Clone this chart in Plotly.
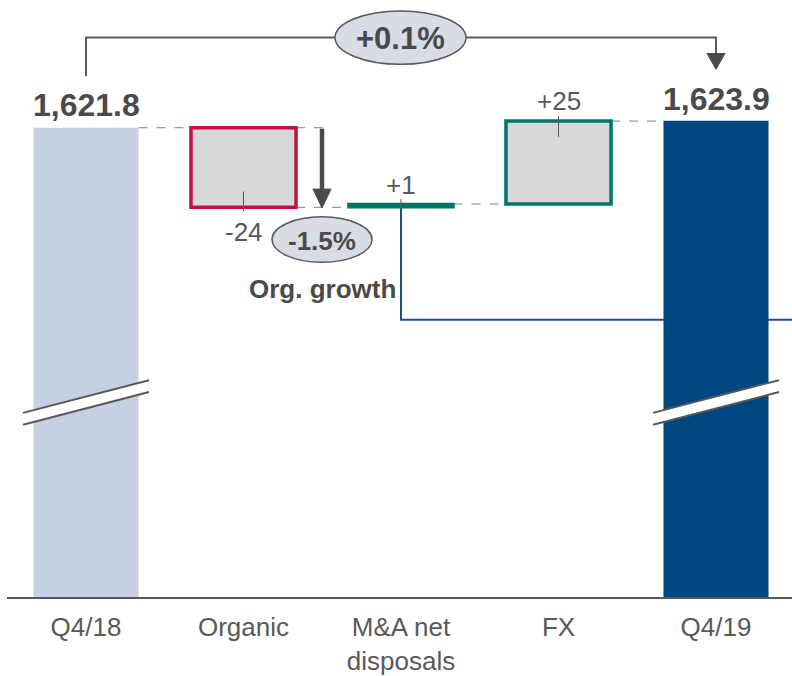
import plotly.graph_objects as go

# ---------------- data ----------------
categories = ["Q4/18", "Organic", "M&A net<br>disposals", "FX", "Q4/19"]
start_value = 1621.8
deltas = [-24, 1, 25]
end_value = 1623.9
delta_labels = ["-24", "+1", "+25"]
total_labels = ["1,621.8", "1,623.9"]
organic_growth_label = "-1.5%"
organic_growth_text = "Org. growth"
total_growth_label = "+0.1%"

# ---------------- styles ----------------
C_START = "#c5d0e2"
C_END = "#00467f"
C_BOX = "#d7d8da"
C_RED = "#c8103e"
C_TEAL = "#00756a"
C_BLUE = "#1f4e8c"
C_GRAY = "#595959"
C_DARK = "#4a4a4a"
C_ELL = "#d8dce5"
FONT = "Liberation Sans, Arial, sans-serif"
BW = 0.667

# running bases
bases = []
run = start_value
for d in deltas:
    bases.append(run)
    run += d
tops = [b + d for b, d in zip(bases, deltas)]

# axis geometry (pixel <-> data helpers for decorative elements)
W, H = 792, 676
ML, MR, MT, MB = 7, 0, 0, 73
PW, PH = W - ML - MR, H - MT - MB
YS = 3.35                       # px per unit
YTOP = start_value + 129 / YS
YBOT = YTOP - PH / YS
XS = 157.5
X0 = -(86 - ML) / XS
X1 = X0 + PW / XS

def xd(p):
    return X0 + (p - ML) / XS

def yd(p):
    return YTOP - (p - MT) / YS

fig = go.Figure()
fig.add_trace(go.Bar(x=[categories[0]], y=[start_value], width=BW,
                     marker=dict(color=C_START, line=dict(width=0))))
fig.add_trace(go.Bar(x=[categories[1]], base=[bases[0]], y=[deltas[0]], width=BW,
                     marker=dict(color=C_BOX, line=dict(color=C_RED, width=3.5))))
fig.add_trace(go.Bar(x=[categories[2]], base=[bases[1]], y=[deltas[1]], width=BW,
                     marker=dict(color=C_TEAL, line=dict(color=C_TEAL, width=2.5))))
fig.add_trace(go.Bar(x=[categories[3]], base=[bases[2]], y=[deltas[2]], width=BW,
                     marker=dict(color=C_BOX, line=dict(color=C_TEAL, width=3.5))))
fig.add_trace(go.Bar(x=[categories[4]], y=[end_value], width=BW,
                     marker=dict(color=C_END, line=dict(width=0))))

shapes = []
ann = []

# dashed connectors
dash = dict(color="#808080", width=1, dash="dash")
shapes.append(dict(type="line", xref="x", yref="y", x0=0 + BW / 2, x1=1 - BW / 2,
                   y0=start_value, y1=start_value, line=dash, layer="below"))
shapes.append(dict(type="line", xref="x", yref="y", x0=1 + BW / 2, x1=xd(330),
                   y0=start_value, y1=start_value, line=dash, layer="below"))
for i in range(len(deltas) - 1):
    shapes.append(dict(type="line", xref="x", yref="y", x0=i + 1 + BW / 2, x1=i + 2 - BW / 2,
                       y0=tops[i], y1=tops[i], line=dash, layer="below"))
shapes.append(dict(type="line", xref="x", yref="y", x0=3 + BW / 2, x1=4 - BW / 2,
                   y0=tops[2], y1=tops[2], line=dash, layer="below"))

# blue connector from M&A
shapes.append(dict(type="path", xref="x", yref="y",
                   path=f"M 2 {tops[1]} L 2 {yd(323)} L {X1 + 0.1} {yd(323)}",
                   line=dict(color=C_BLUE, width=2), layer="below"))

# leader ticks + delta labels
lead = dict(color=C_GRAY, width=1)
LBL = dict(size=26, color=C_GRAY, family=FONT)
shapes.append(dict(type="line", xref="x", yref="y", x0=1, x1=1,
                   y0=tops[0] + 16 / YS, y1=tops[0] - 4 / YS, line=lead))
ann.append(dict(x=1, y=tops[0], xref="x", yref="y", text=delta_labels[0], showarrow=False,
                yanchor="middle", yshift=-25, font=LBL))
shapes.append(dict(type="line", xref="x", yref="y", x0=2, x1=2,
                   y0=tops[1] + 5 / YS, y1=tops[1] - 5 / YS, line=lead))
ann.append(dict(x=2, y=tops[1], xref="x", yref="y", text=delta_labels[1], showarrow=False,
                yanchor="middle", yshift=19, font=LBL))
shapes.append(dict(type="line", xref="x", yref="y", x0=3, x1=3,
                   y0=tops[2] + 5 / YS, y1=tops[2] - 16 / YS, line=lead))
ann.append(dict(x=3, y=tops[2], xref="x", yref="y", text=delta_labels[2], showarrow=False,
                yanchor="middle", yshift=20, font=LBL))

# totals
ann.append(dict(x=0, y=start_value, xref="x", yref="y", text=f"<b>{total_labels[0]}</b>",
                showarrow=False, yanchor="middle", yshift=23,
                font=dict(size=32, color=C_DARK, family=FONT)))
ann.append(dict(x=4, y=end_value, xref="x", yref="y", text=f"<b>{total_labels[1]}</b>",
                showarrow=False, yanchor="middle", yshift=22,
                font=dict(size=32, color=C_DARK, family=FONT)))

# break marks
for cx in (0, 4):
    xa, xb = cx - 0.4, cx + 0.4
    p1a, p1b = yd(417), yd(384)
    p2a, p2b = yd(429), yd(396)
    shapes.append(dict(type="path", xref="x", yref="y",
                       path=f"M {xa} {p1a} L {xb} {p1b} L {xb} {p2b} L {xa} {p2a} Z",
                       fillcolor="white", line=dict(width=0)))
    shapes.append(dict(type="line", xref="x", yref="y", x0=xa, x1=xb, y0=p1a, y1=p1b,
                       line=dict(color=C_GRAY, width=2)))
    shapes.append(dict(type="line", xref="x", yref="y", x0=xa, x1=xb, y0=p2a, y1=p2b,
                       line=dict(color=C_GRAY, width=2)))

# organic growth arrow
ax = xd(322)
shapes.append(dict(type="line", xref="x", yref="y", x0=ax, x1=ax, y0=yd(130), y1=yd(193),
                   line=dict(color=C_DARK, width=4.5)))
shapes.append(dict(type="path", xref="x", yref="y",
                   path=f"M {xd(313)} {yd(191)} L {xd(331)} {yd(191)} L {ax} {yd(210)} Z",
                   fillcolor=C_DARK, line=dict(color=C_DARK, width=1)))
shapes.append(dict(type="circle", xref="x", yref="y", x0=xd(272), x1=xd(372),
                   y0=yd(219), y1=yd(265), fillcolor=C_ELL, line=dict(color=C_GRAY, width=1.5)))
ann.append(dict(x=ax, y=yd(243), xref="x", yref="y", text=f"<b>{organic_growth_label}</b>",
                showarrow=False, font=dict(size=26, color=C_DARK, family=FONT)))
ann.append(dict(x=ax, y=yd(292), xref="x", yref="y", text=f"<b>{organic_growth_text}</b>",
                showarrow=False, font=dict(size=26, color=C_DARK, family=FONT)))

# top bracket
shapes.append(dict(type="path", xref="x", yref="y",
                   path=f"M 0 {yd(77)} L 0 {yd(38)} L {xd(336)} {yd(38)}",
                   line=dict(color=C_GRAY, width=2)))
shapes.append(dict(type="path", xref="x", yref="y",
                   path=f"M {xd(465)} {yd(38)} L 4 {yd(38)} L 4 {yd(55)}",
                   line=dict(color=C_GRAY, width=2)))
shapes.append(dict(type="path", xref="x", yref="y",
                   path=f"M {xd(707)} {yd(54)} L {xd(725)} {yd(54)} L 4 {yd(70)} Z",
                   fillcolor=C_DARK, line=dict(color=C_DARK, width=1)))
shapes.append(dict(type="circle", xref="x", yref="y", x0=xd(335), x1=xd(466),
                   y0=yd(11), y1=yd(65), fillcolor=C_ELL, line=dict(color=C_GRAY, width=1.5)))
ann.append(dict(x=xd(400), y=yd(39), xref="x", yref="y", text=f"<b>{total_growth_label}</b>",
                showarrow=False, font=dict(size=31, color=C_DARK, family=FONT)))

fig.update_layout(
    width=W, height=H,
    margin=dict(l=ML, r=MR, t=MT, b=MB),
    paper_bgcolor="white", plot_bgcolor="white",
    barmode="overlay", showlegend=False,
    shapes=shapes, annotations=ann,
    xaxis=dict(type="category", categoryorder="array", categoryarray=categories,
               range=[X0, X1], showline=True, linecolor=C_GRAY, linewidth=2,
               showgrid=False, zeroline=False, ticks="outside", ticklen=6,
               tickcolor="rgba(0,0,0,0)",
               tickfont=dict(size=26, color=C_GRAY, family=FONT)),
    yaxis=dict(range=[YBOT, YTOP], visible=False),
)

fig.write_html("out.html")
